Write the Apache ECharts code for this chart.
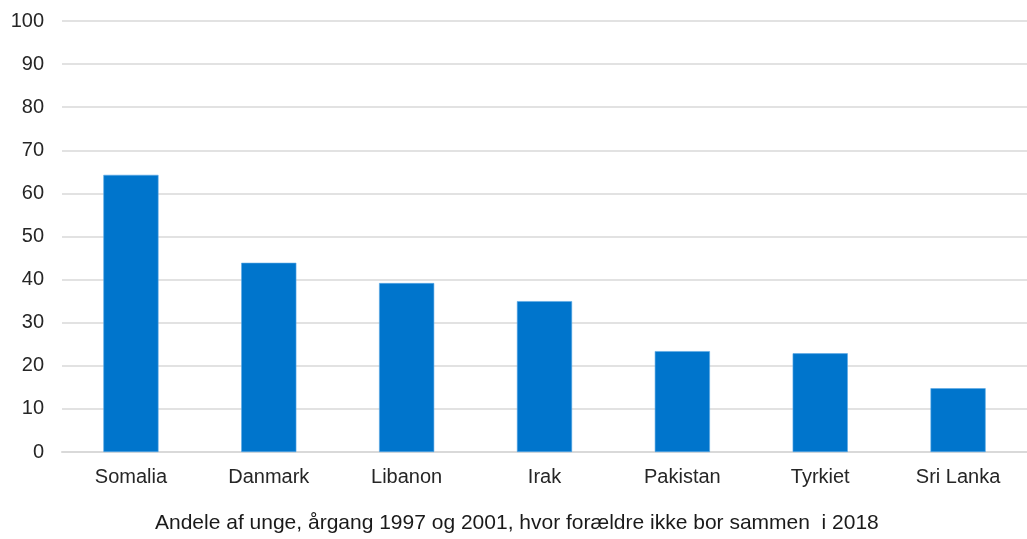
<!DOCTYPE html>
<html>
<head>
<meta charset="utf-8">
<script src="https://cdn.jsdelivr.net/npm/echarts@6/dist/echarts.min.js"></script>
<style>
  html, body { margin: 0; padding: 0; background: #fff; }
  #chart { width: 1027px; height: 539px; }
</style>
</head>
<body>
<div id="chart"></div>
<script>
// data
const countries = ['Somalia', 'Danmark', 'Libanon', 'Irak', 'Pakistan', 'Tyrkiet', 'Sri Lanka']
const shares = [64.3, 43.9, 39.2, 35.0, 23.4, 22.9, 14.8]
const xTitle = 'Andele af unge, årgang 1997 og 2001, hvor forældre ikke bor sammen  i 2018'

const chart = echarts.init(document.getElementById('chart'))

const option = {
  animation: false,
  textStyle: { fontFamily: 'Liberation Sans, Arial, sans-serif' },
  // akse-titel under diagrammet
  title: {
    text: xTitle,
    left: 155,
    top: 513,
    padding: 0,
    textStyle: { color: '#1a1a1a', fontSize: 21, fontWeight: 'normal', fontFamily: 'Liberation Sans' }
  },
  grid: {
    left: 62,
    right: -3,
    top: 21,
    bottom: 87
  },
  xAxis: {
    type: 'category',
    data: countries,
    axisLine: { lineStyle: { color: '#d9d9d9', width: 2 } },
    axisTick: { show: false },
    axisLabel: { color: '#262626', fontSize: 20, margin: 15, interval: 0 }
  },
  yAxis: {
    type: 'value',
    min: 0,
    max: 100,
    interval: 10,
    axisLine: { show: false },
    axisTick: { show: false },
    axisLabel: { color: '#262626', fontSize: 20, margin: 18 },
    splitLine: { lineStyle: { color: '#d9d9d9', width: 1.5 } }
  },
  series: [
    {
      type: 'bar',
      data: shares,
      barWidth: '40%',
      itemStyle: {
        color: '#0075cc',
        borderColor: '#5aa9e6',
        borderWidth: 0.6
      }
    }
  ]
}

chart.setOption(option)
</script>
</body>
</html>
